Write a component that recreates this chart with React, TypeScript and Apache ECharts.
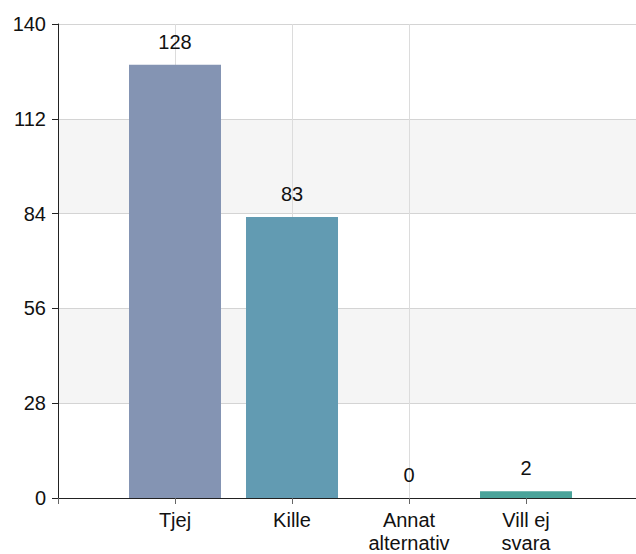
import React, { useEffect, useRef } from "react";
import * as echarts from "echarts";

const categories = ["Tjej", "Kille", "Annat\nalternativ", "Vill ej\nsvara"];
const values = [128, 83, 0, 2];
const barColors = ["#8494b3", "#629bb2", "#57a0a6", "#4aa39a"];
const yTicks = [0, 28, 56, 84, 112, 140];

export default function App() {
  const ref = useRef<HTMLDivElement>(null);
  useEffect(() => {
    if (!ref.current) return;
    const chart = echarts.init(ref.current, null, { renderer: "svg" });
    const font = "Liberation Sans, Arial, sans-serif";
    chart.setOption({
      animation: false,
      grid: { left: 58, right: 0, top: 24, bottom: 56, containLabel: false },
      xAxis: {
        type: "value",
        min: 0,
        max: 4.94,
        interval: 1,
        axisLine: { show: true, onZero: false, lineStyle: { color: "#222", width: 1 } },
        axisTick: { show: true, length: 6, lineStyle: { color: "#666" }, customValues: [0, 1, 2, 3, 4] },
        axisLabel: {
          customValues: [1, 2, 3, 4],
          margin: 10,
          color: "#111",
          fontSize: 20,
          fontFamily: font,
          lineHeight: 23,
          formatter: (v: number) => {
            const i = Math.round(v) - 1;
            return Math.abs(v - Math.round(v)) < 1e-6 && i >= 0 && i < categories.length ? categories[i] : "";
          },
        },
        splitLine: { show: true, showMinLine: false, showMaxLine: false, lineStyle: { color: "#dcdcdc" } },
      },
      yAxis: {
        type: "value",
        min: yTicks[0],
        max: yTicks[yTicks.length - 1],
        interval: yTicks[1] - yTicks[0],
        axisLine: { show: true, lineStyle: { color: "#222", width: 1 } },
        axisTick: { show: true, length: 6, lineStyle: { color: "#222" } },
        axisLabel: { margin: 12, color: "#111", fontSize: 20, fontFamily: font },
        splitLine: { show: true, lineStyle: { color: "#d4d4d4" } },
        splitArea: { show: true, areaStyle: { color: ["#ffffff", "#f5f5f5"] } },
      },
      series: [
        {
          type: "bar",
          barWidth: 92,
          data: values.map((v, i) => ({
            value: [i + 1, v],
            itemStyle: { color: barColors[i] },
          })),
          label: {
            show: true,
            position: "top",
            distance: 13,
            color: "#111",
            fontSize: 20,
            fontFamily: font,
            formatter: (p: any) => String(p.value[1]),
          },
        },
      ],
    });
    return () => chart.dispose();
  }, []);
  return (
    <div
      ref={ref}
      style={{ position: "fixed", left: 0, top: 0, width: 636, height: 554, background: "#fff" }}
    />
  );
}
